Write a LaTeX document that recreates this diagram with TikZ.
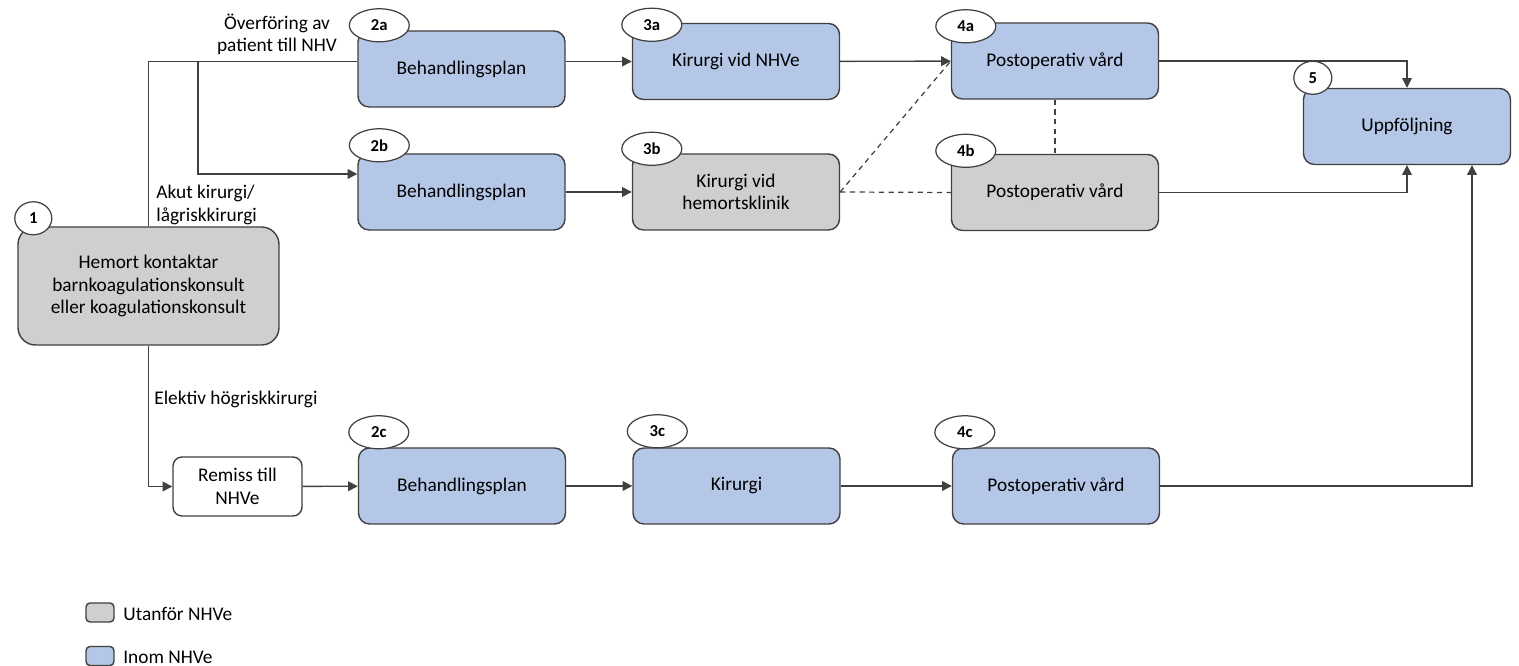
\documentclass[tikz,border=0pt]{standalone}
\usepackage{fontspec}
\setmainfont{Carlito}
\usetikzlibrary{shapes.geometric,arrows.meta}
\definecolor{nhvblue}{HTML}{B4C7E7}
\definecolor{hemgray}{HTML}{D0CECE}
\definecolor{edge}{HTML}{404040}

\begin{document}
\begin{tikzpicture}[font=\fontsize{11}{12.8}\selectfont]
% Page frame
\useasboundingbox (0,0) rectangle (30.38,13.32);

\tikzstyle{blu} = [draw=edge, shape=rectangle, rounded corners=0.22cm, minimum height=1.52cm, minimum width=4.14cm, line width=0.8pt, fill=nhvblue, align=center]
\tikzstyle{gry} = [blu, fill=hemgray]
\tikzstyle{tag} = [draw=edge, shape=ellipse, minimum height=0.66cm, minimum width=1.2cm, inner sep=0pt, line width=0.7pt, fill=white, font=\fontsize{9.5}{10}\selectfont\bfseries]
\tikzstyle{arr} = [-{Triangle[length=5.5pt,width=5.5pt]}, draw=edge, line width=0.8pt]
\tikzstyle{dsh} = [draw=edge, line width=0.7pt, dash pattern=on 3pt off 2.5pt]

\node at (2.97,7.6) [gry, minimum width=5.22cm, minimum height=2.36cm, rounded corners=0.35cm] (b1) {Hemort kontaktar\\barnkoagulationskonsult\\eller koagulationskonsult};
\node at (4.75,3.59) [blu, fill=white, minimum width=2.58cm, minimum height=1.18cm, rounded corners=0.18cm] (rem) {Remiss till\\NHVe};

\node at (9.23,11.94) [blu] (2a) {Behandlingsplan};
\node at (9.23,9.48) [blu] (2b) {Behandlingsplan};
\node at (9.24,3.6) [blu] (2c) {Behandlingsplan};

\node at (14.72,12.09) [blu] (3a) {Kirurgi vid NHVe};
\node at (14.72,9.48) [gry] (3b) {Kirurgi vid\\hemortsklinik};
\node at (14.73,3.6) [blu] (3c) {Kirurgi};

\node at (21.1,12.1) [blu] (4a) {Postoperativ vård};
\node at (21.1,9.47) [gry] (4b) {Postoperativ vård};
\node at (21.12,3.6) [blu] (4c) {Postoperativ vård};

\node at (28.14,10.79) [blu] (5) {Uppföljning};

% step tags
\node at ([shift={(0.32,0.16)}]b1.north west) [tag, minimum width=0.74cm] (t1) {1};
\node at ([shift={(0.44,0.1)}]2a.north west) [tag] (t2a) {2a};
\node at ([shift={(0.44,0.16)}]2b.north west) [tag] (t2b) {2b};
\node at ([shift={(0.42,0.3)}]2c.north west) [tag] (t2c) {2c};
\node at ([shift={(0.4,-0.04)}]3a.north west) [tag] (t3a) {3a};
\node at ([shift={(0.4,0.09)}]3b.north west) [tag] (t3b) {3b};
\node at ([shift={(0.5,0.32)}]3c.north west) [tag] (t3c) {3c};
\node at ([shift={(0.3,-0.08)}]4a.north west) [tag] (t4a) {4a};
\node at ([shift={(0.3,0.06)}]4b.north west) [tag] (t4b) {4b};
\node at ([shift={(0.26,0.3)}]4c.north west) [tag] (t4c) {4c};
\node at ([shift={(0.2,0.2)}]5.north west) [tag, minimum width=0.76cm] (t5) {5};

% route labels
\node at (5.54,12.63) [align=center, inner sep=0pt] (lbov) {Överföring av\\patient till NHV};
\node at (3.12,9.22) [anchor=west, align=left, inner sep=0pt] (lbak) {Akut kirurgi/\\lågriskkirurgi};
\node at (3.08,5.34) [anchor=west, inner sep=0pt] (lbel) {Elektiv högriskkirurgi};

% connectors
\coordinate (top) at (b1.north |- 3a.west);
\coordinate (fork) at (3.96,12.09);
\coordinate (in2b) at ([yshift=0.36cm]2b.west);
\draw[draw=edge, line width=0.8pt] (b1.north) -- (top) -- (top -| 2a.west);
\draw[arr] (fork) |- (in2b);
\draw[arr] (b1.south) |- (rem.west);
\draw[arr] (rem) -- (2c);

\draw[arr] (3a.west -| 2a.east) -- (3a.west);
\draw[arr] (3a) -- (4a);
\draw[arr] (2b) -- (3b);
\draw[arr] (2c) -- (3c);
\draw[arr] (3c) -- (4c);

\draw[dsh] (3b.east) -- (4a.west);
\draw[dsh] (3b.east) -- (4b.west);
\draw[dsh] (4a.south) -- (4b.north);

\draw[arr] (4a.east) -| (5.north);
\draw[arr] (4b.east) -| (5.south);
\draw[arr] (4c.east) -| ([xshift=1.3cm]5.south);

% legend
\node at (2.0,1.07) [gry, minimum width=0.56cm, minimum height=0.38cm, rounded corners=0.08cm] (lg1) {};
\node at (2.46,1.05) [anchor=west, inner sep=0pt] (lt1) {Utanför NHVe};
\node at (2.0,0.2) [blu, minimum width=0.56cm, minimum height=0.38cm, rounded corners=0.08cm] (lg2) {};
\node at (2.46,0.17) [anchor=west, inner sep=0pt] (lt2) {Inom NHVe};
\end{tikzpicture}
\end{document}
